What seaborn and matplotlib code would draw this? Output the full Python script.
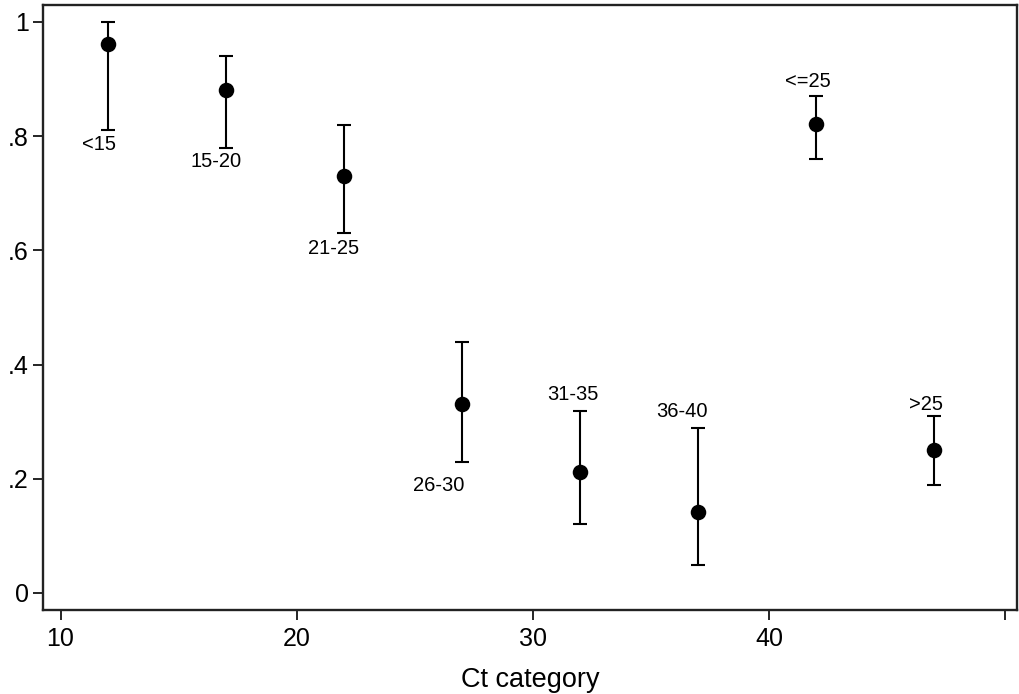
import matplotlib
matplotlib.use("Agg")
import matplotlib.pyplot as plt
import seaborn as sns
import pandas as pd

# ==========================================
# DATA

ct_mid = [12, 17, 22, 27, 32, 37, 42, 47]
ct_label = ["<15", "15-20", "21-25", "26-30", "31-35", "36-40", "<=25", ">25"]
estimate = [0.962, 0.880, 0.730, 0.330, 0.212, 0.141, 0.822, 0.251]
ci_low = [0.811, 0.780, 0.630, 0.229, 0.120, 0.049, 0.760, 0.189]
ci_high = [1.000, 0.940, 0.820, 0.440, 0.318, 0.289, 0.870, 0.309]

x_ticks = [10, 20, 30, 40, 50]
x_tick_labels = ["10", "20", "30", "40", ""]
y_ticks = [0, 0.2, 0.4, 0.6, 0.8, 1.0]
y_tick_labels = ["0", ".2", ".4", ".6", ".8", "1"]

# label placement: which end of the CI, offset in pixels
label_end = ["low", "low", "low", "low", "high", "high", "high", "high"]
label_offset = [(-9, -15), (-10, -14), (-10, -15), (-23, -23),
                (-7, 17), (-16, 16), (-8, 15), (-8, 12)]

df = pd.DataFrame({
    "ct": ct_mid,
    "label": ct_label,
    "est": estimate,
    "lo": ci_low,
    "hi": ci_high,
})

# ==========================================
# PLOT

sns.set_theme(style="ticks")
plt.rcParams["font.family"] = ["Liberation Sans", "DejaVu Sans"]

fig = plt.figure(figsize=(10.2, 6.94), dpi=100)
ax = fig.add_axes([0.042, 0.121, 0.955, 0.872])

ax.errorbar(
    df["ct"], df["est"],
    yerr=[df["est"] - df["lo"], df["hi"] - df["est"]],
    fmt="none", ecolor="black", elinewidth=1.5,
    capsize=4.7, capthick=1.5, zorder=2
)

sns.scatterplot(
    data=df, x="ct", y="est",
    s=125, color="black", edgecolor="black",
    linewidth=0, zorder=3, ax=ax
)

for i, row in df.iterrows():
    yv = row["lo"] if label_end[i] == "low" else row["hi"]
    ax.annotate(
        row["label"], (row["ct"], yv),
        xytext=label_offset[i], textcoords="offset pixels",
        ha="center", va="center", fontsize=14.5, color="black"
    )

ax.set_xlim(9.25, 50.5)
ax.set_ylim(-0.03, 1.03)
ax.set_xticks(x_ticks)
ax.set_xticklabels(x_tick_labels)
ax.set_yticks(y_ticks)
ax.set_yticklabels(y_tick_labels)

ax.tick_params(axis="both", direction="out", length=7, width=1.2,
               colors="black", labelsize=18)
ax.tick_params(axis="x", pad=5)
ax.tick_params(axis="y", pad=3)

for side in ["left", "right", "top", "bottom"]:
    ax.spines[side].set_visible(True)
    ax.spines[side].set_linewidth(1.7)
    ax.spines[side].set_color("#222222")

ax.set_xlabel("Ct category", fontsize=19.5, labelpad=12, color="black")
ax.set_ylabel("")

plt.savefig("out.png", dpi=100)
